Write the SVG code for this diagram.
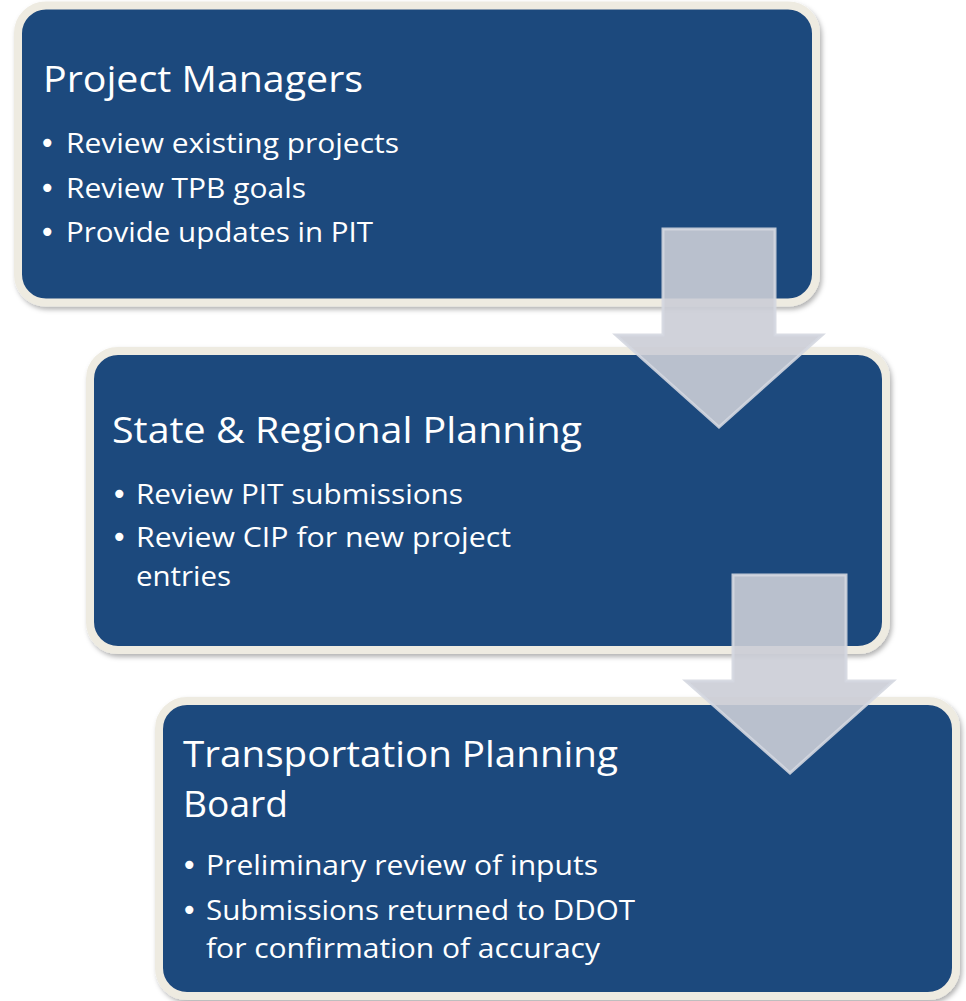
<svg xmlns="http://www.w3.org/2000/svg" width="966" height="1001" viewBox="0 0 966 1001">
<defs>
<filter id="sh" x="-5%" y="-5%" width="110%" height="115%">
<feDropShadow dx="2" dy="3" stdDeviation="2.5" flood-color="#000" flood-opacity="0.3"/>
</filter>
<style>
.box{fill:#1F497D;stroke:#EEEBE1;stroke-width:8;filter:url(#sh)}
.t{font-family:"Open Sans","Liberation Sans",sans-serif;fill:#FFFFFF}
.h{font-size:36px}
.b{font-size:28px}
.bu{font-family:"DejaVu Sans",sans-serif;font-size:28px;fill:#FFFFFF}
.arr{fill:#CBCDD6;fill-opacity:0.9;stroke:#D4D7E0;stroke-width:3;stroke-opacity:0.9;stroke-linejoin:miter}
</style>
</defs>
<rect width="966" height="1001" fill="#FFFFFF"/>
<g id="node1">
<rect class="box" x="18" y="5.5" width="798" height="297" rx="28"/>
<text class="t h" x="43" y="92" textLength="320" lengthAdjust="spacingAndGlyphs">Project Managers</text>
<text class="bu" x="39" y="153">•</text>
<text class="t b" x="66" y="153" textLength="333" lengthAdjust="spacingAndGlyphs">Review existing projects</text>
<text class="bu" x="39" y="198">•</text>
<text class="t b" x="66" y="198" textLength="240" lengthAdjust="spacingAndGlyphs">Review TPB goals</text>
<text class="bu" x="39" y="242">•</text>
<text class="t b" x="66" y="242" textLength="307" lengthAdjust="spacingAndGlyphs">Provide updates in PIT</text>
</g>
<g id="node2">
<rect class="box" x="90" y="351" width="796" height="299" rx="28"/>
<text class="t h" x="112" y="443" textLength="470" lengthAdjust="spacingAndGlyphs">State &amp; Regional Planning</text>
<text class="bu" x="111" y="504">•</text>
<text class="t b" x="136" y="504" textLength="327" lengthAdjust="spacingAndGlyphs">Review PIT submissions</text>
<text class="bu" x="111" y="547">•</text>
<text class="t b" x="136" y="547" textLength="375" lengthAdjust="spacingAndGlyphs">Review CIP for new project</text>
<text class="t b" x="136" y="586" textLength="95" lengthAdjust="spacingAndGlyphs">entries</text>
</g>
<g id="node3">
<rect class="box" x="159" y="701" width="797" height="295" rx="28"/>
<text class="t h" x="183" y="767" textLength="435" lengthAdjust="spacingAndGlyphs">Transportation Planning</text>
<text class="t h" x="183" y="817" textLength="105" lengthAdjust="spacingAndGlyphs">Board</text>
<text class="bu" x="181" y="875">•</text>
<text class="t b" x="206" y="875" textLength="392" lengthAdjust="spacingAndGlyphs">Preliminary review of inputs</text>
<text class="bu" x="181" y="920">•</text>
<text class="t b" x="206" y="920" textLength="429" lengthAdjust="spacingAndGlyphs">Submissions returned to DDOT</text>
<text class="t b" x="206" y="958" textLength="394" lengthAdjust="spacingAndGlyphs">for confirmation of accuracy</text>
</g>
<g id="connectors">
<polygon id="arrow1" class="arr" points="663,229 775,229 775,335 822,335 719,427 616,335 663,335"/>
<polygon id="arrow2" class="arr" points="733,575 846,575 846,681 893,681 790,773 686,681 733,681"/>
</g>
</svg>
